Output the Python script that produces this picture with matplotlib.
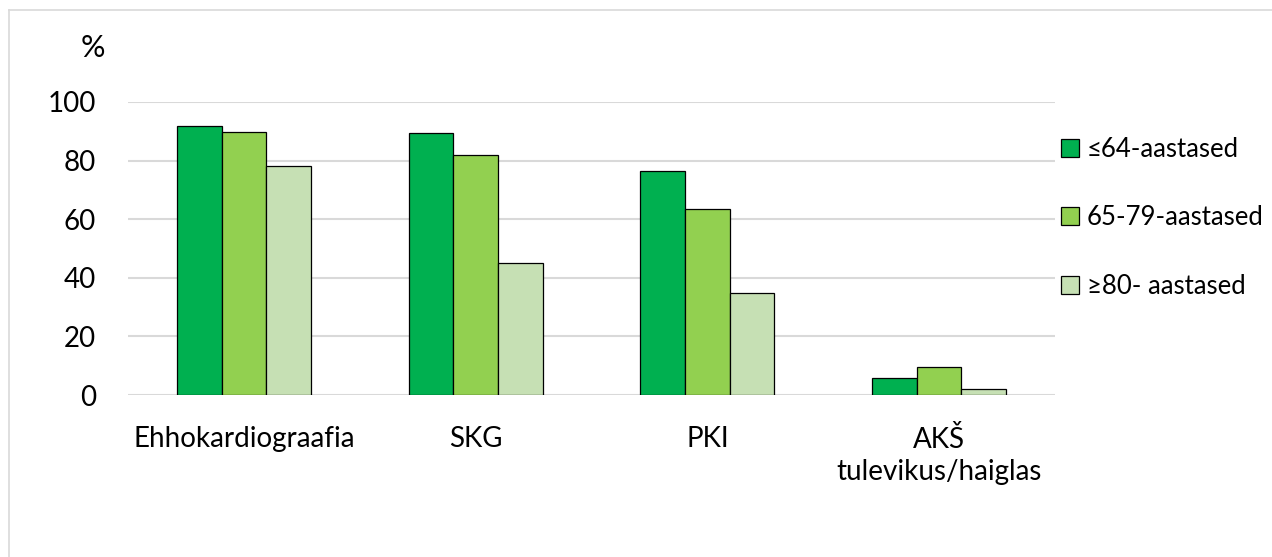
import matplotlib.pyplot as plt
from matplotlib.patches import Patch
from matplotlib.lines import Line2D
import numpy as np

# Data
categories = ["Ehhokardiograafia", "SKG", "PKI", "AKŠ\ntulevikus/haiglas"]
series_names = ["≤64-aastased", "65-79-aastased", "≥80- aastased"]
age_64 = [91.7, 89.3, 76.3, 5.9]
age_65_79 = [89.8, 81.8, 63.6, 9.7]
age_80 = [78.0, 45.2, 34.9, 1.9]
colors = ["#00B050", "#92D050", "#C6E0B4"]

plt.rcParams['font.family'] = ['Lato', 'DejaVu Sans']

fig = plt.figure(figsize=(12.72, 5.57), dpi=100)
ax = fig.add_axes([128/1272, 162/557, 927/1272, 293/557])

x = np.arange(len(categories))
w = 0.193
for i, (vals, col) in enumerate(zip([age_64, age_65_79, age_80], colors)):
    ax.bar(x + (i - 1) * w, vals, width=w, color=col, edgecolor='black', linewidth=0.9, zorder=3)

ax.set_xlim(-0.5, 3.5)
ax.set_ylim(0, 100)
ax.set_yticks([0, 20, 40, 60, 80, 100])
ax.set_xticks(x)
ax.set_xticklabels(categories, fontsize=20, linespacing=1.3)
ax.tick_params(axis='y', labelsize=20, length=0, pad=23)
ax.tick_params(axis='x', length=0, pad=22)
ax.grid(axis='y', color='#D9D9D9', linewidth=1.5, zorder=0)
for s in ax.spines.values():
    s.set_visible(False)

fig.text(93/1272, 1 - 48/557, "%", fontsize=22, ha='center', va='center')

# legend
handles = [Patch(facecolor=c, edgecolor='black', linewidth=0.9) for c in colors]
fig.legend(handles, series_names, loc='upper left', bbox_to_anchor=(1051/1272, 1 - 127/557),
           frameon=False, fontsize=18.5, handlelength=0.7, handleheight=0.7,
           handletextpad=0.3, labelspacing=1.68, borderaxespad=0)

# outer chart frame
fig.add_artist(Line2D([8.5/1272, 8.5/1272], [0, 1 - 10/557], transform=fig.transFigure, color='#D9D9D9', linewidth=1.2))
fig.add_artist(Line2D([8.5/1272, 1], [1 - 10/557, 1 - 10/557], transform=fig.transFigure, color='#D9D9D9', linewidth=1.2))

fig.savefig("out.png", dpi=100)
